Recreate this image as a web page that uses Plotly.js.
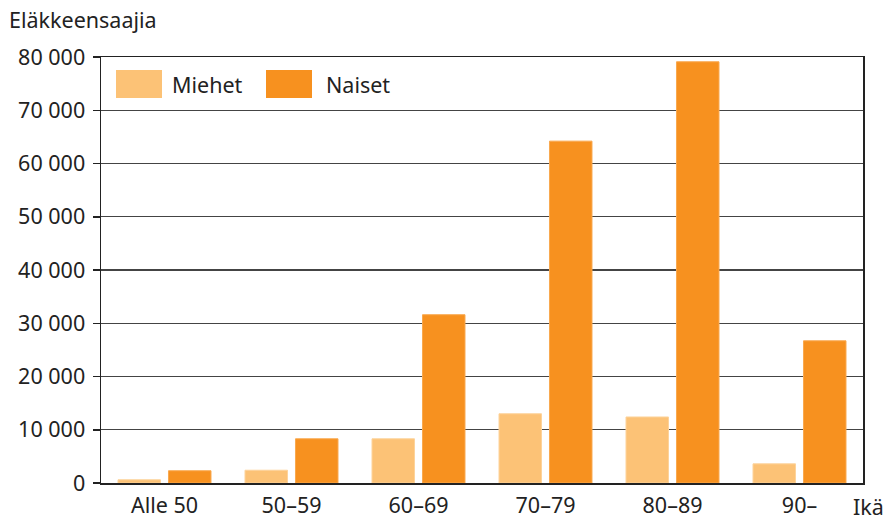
<!DOCTYPE html>
<html>
<head>
<meta charset="utf-8">
<script src="https://cdn.plot.ly/plotly-3.0.1.min.js"></script>
<style>html,body{margin:0;padding:0;background:#fff;}#chart{width:896px;height:520px;}</style>
</head>
<body>
<div id="chart"></div>
<script>
const categories = ["Alle 50", "50–59", "60–69", "70–79", "80–89", "90–"];
const miehet = [600, 2400, 8300, 13000, 12400, 3600];
const naiset = [2300, 8300, 31600, 64200, 79100, 26700];
const seriesNames = ["Miehet", "Naiset"];
const yTickVals = [0, 10000, 20000, 30000, 40000, 50000, 60000, 70000, 80000];
const yTickText = ["0", "10 000", "20 000", "30 000", "40 000", "50 000", "60 000", "70 000", "80 000"];
const yTitle = "Eläkkeensaajia";
const xTitle = "Ikä";

const colMiehet = "#FCC276";
const colNaiset = "#F7911F";
const FONT = "Noto Sans, Open Sans, sans-serif";
const FS = 21.5;
const textColor = "#222";

const W = 896, H = 520;
const margin = {l: 101, r: 33, t: 57, b: 37};
const pw = W - margin.l - margin.r, ph = H - margin.t - margin.b;
const px = v => (v - margin.l) / pw;
const py = v => (H - margin.b - v) / ph;

const traces = [
  {type: "bar", name: seriesNames[0], x: categories, y: miehet,
   marker: {color: colMiehet, line: {color: "#FDD39B", width: 1}}, hoverinfo: "x+y"},
  {type: "bar", name: seriesNames[1], x: categories, y: naiset,
   marker: {color: colNaiset, line: {color: "#F9A84E", width: 1}}, hoverinfo: "x+y"}
];

const legendItems = [
  {name: seriesNames[0], color: colMiehet, x0: 116, x1: 162, tx: 170},
  {name: seriesNames[1], color: colNaiset, x0: 266, x1: 312, tx: 324}
];

const shapes = legendItems.map(it => ({
  type: "rect", xref: "paper", yref: "paper",
  x0: px(it.x0), x1: px(it.x1), y0: py(98), y1: py(70),
  fillcolor: it.color, line: {width: 0}
}));

const annotations = legendItems.map(it => ({
  xref: "paper", yref: "paper", x: px(it.tx), y: py(84),
  xanchor: "left", yanchor: "middle", text: it.name, showarrow: false,
  font: {family: FONT, size: FS, color: textColor}
}));
annotations.push({
  xref: "paper", yref: "paper", x: px(7), y: py(19), xanchor: "left", yanchor: "middle",
  text: yTitle, showarrow: false, font: {family: FONT, size: FS, color: textColor}
});
annotations.push({
  xref: "paper", yref: "paper", x: px(851), y: py(507), xanchor: "left", yanchor: "middle",
  text: xTitle, showarrow: false, font: {family: FONT, size: FS, color: textColor}
});

const layout = {
  width: W, height: H, margin: margin,
  paper_bgcolor: "#fff", plot_bgcolor: "#fff",
  showlegend: false,
  barmode: "group", bargap: 0.205, bargroupgap: 0.158,
  font: {family: FONT, size: FS, color: textColor},
  xaxis: {
    type: "category", showline: true, linecolor: "#222", linewidth: 1.5, mirror: true,
    ticks: "", showgrid: false, tickfont: {family: FONT, size: FS, color: textColor},
    ticklabelstandoff: 3, fixedrange: true
  },
  yaxis: {
    range: [0, 80000], tickmode: "array", tickvals: yTickVals, ticktext: yTickText,
    showline: true, linecolor: "#222", linewidth: 1.5, mirror: true,
    ticks: "outside", ticklen: 7, tickcolor: "#222", tickwidth: 1.5,
    ticklabelstandoff: 3,
    showgrid: true, gridcolor: "#444", gridwidth: 1.4, zeroline: false,
    tickfont: {family: FONT, size: FS, color: textColor}, fixedrange: true
  },
  shapes: shapes,
  annotations: annotations
};

Plotly.newPlot("chart", traces, layout, {displayModeBar: false, staticPlot: true});
</script>
</body>
</html>
